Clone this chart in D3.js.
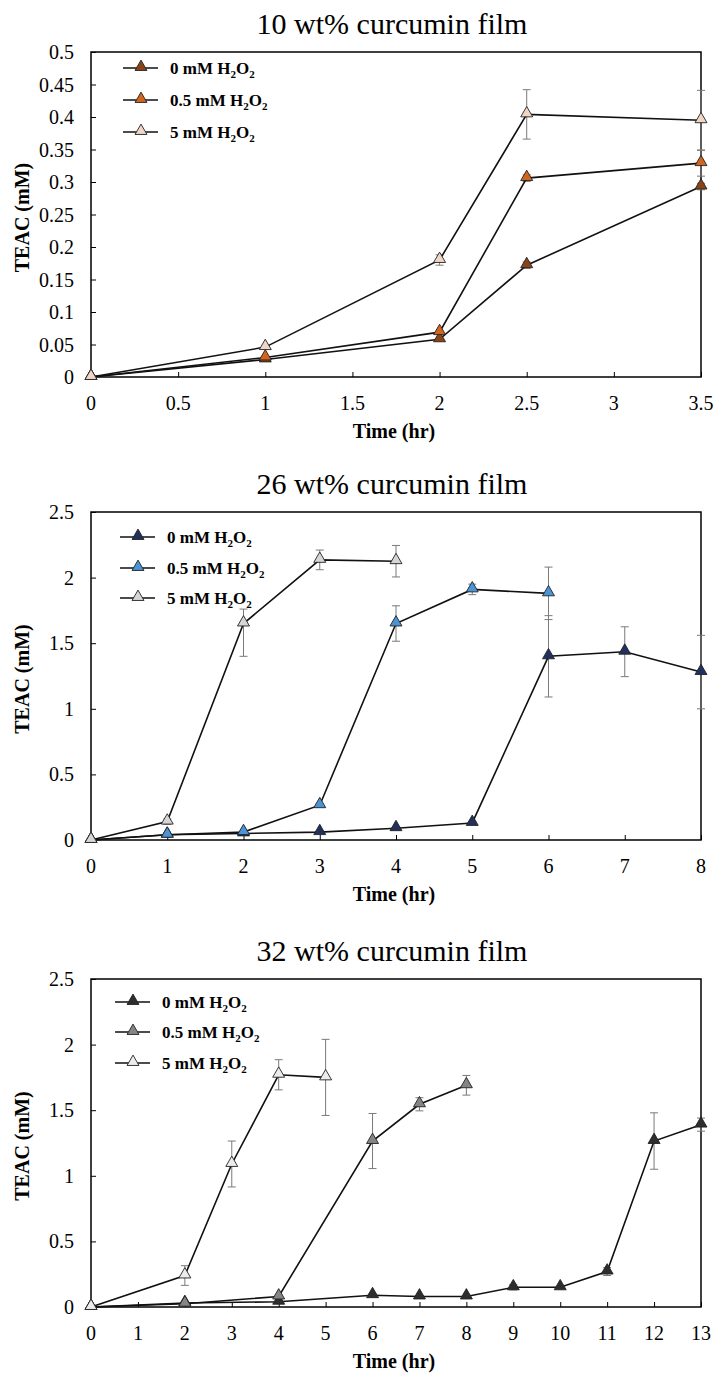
<!DOCTYPE html>
<html>
<head>
<meta charset="utf-8">
<script src="https://cdn.jsdelivr.net/npm/d3@7"></script>
<style>
  body { margin: 0; background: #fff; }
  svg { display: block; }
  text { font-family: "Liberation Serif", "Times New Roman", serif; fill: #000; }
</style>
</head>
<body>
<div id="chart"></div>
<script>
// ---- data ----
const legendNames = ["0 mM ", "0.5 mM ", "5 mM "];

// 10 wt% film
const time10 = [0, 1, 2, 2.5, 3.5];
const teac10_0 = [0, 0.027, 0.058, 0.172, 0.293];
const teac10_05 = [0, 0.030, 0.069, 0.306, 0.329];
const teac10_5 = [0, 0.046, 0.180, 0.404, 0.395];
const err10_0 = [0, 0, 0, 0.005, 0.005];
const err10_05 = [0, 0, 0, 0.005, 0.02];
const err10_5 = [0, 0, 0.008, 0.038, 0.046];
const yTicks10 = [0, 0.05, 0.1, 0.15, 0.2, 0.25, 0.3, 0.35, 0.4, 0.45, 0.5];
const xTicks10 = [0, 0.5, 1, 1.5, 2, 2.5, 3, 3.5];

// 26 wt% film
const time26_0 = [0, 1, 2, 3, 4, 5, 6, 7, 8];
const teac26_0 = [0, 0.04, 0.05, 0.06, 0.09, 0.13, 1.40, 1.435, 1.28];
const err26_0 = [0, 0, 0, 0, 0, 0.01, 0.31, 0.19, 0.28];
const time26_05 = [0, 1, 2, 3, 4, 5, 6];
const teac26_05 = [0, 0.04, 0.06, 0.265, 1.65, 1.91, 1.88];
const err26_05 = [0, 0, 0, 0.01, 0.135, 0.04, 0.2];
const time26_5 = [0, 1, 2, 3, 4];
const teac26_5 = [0, 0.14, 1.65, 2.135, 2.125];
const errUp26_5 = [0, 0.02, 0.11, 0.075, 0.12];
const errDown26_5 = [0, 0.02, 0.25, 0.075, 0.12];
const yTicks26 = [0, 0.5, 1, 1.5, 2, 2.5];
const xTicks26 = [0, 1, 2, 3, 4, 5, 6, 7, 8];

// 32 wt% film
const time32_0 = [0, 2, 4, 6, 7, 8, 9, 10, 11, 12, 13];
const teac32_0 = [0, 0.03, 0.04, 0.09, 0.08, 0.08, 0.15, 0.15, 0.27, 1.265, 1.39];
const err32_0 = [0, 0, 0, 0.01, 0, 0, 0.02, 0, 0.03, 0.215, 0.05];
const time32_05 = [0, 2, 4, 6, 7, 8];
const teac32_05 = [0, 0.025, 0.08, 1.265, 1.545, 1.69];
const err32_05 = [0, 0, 0.01, 0.21, 0.05, 0.075];
const time32_5 = [0, 2, 3, 4, 5];
const teac32_5 = [0, 0.24, 1.09, 1.77, 1.75];
const err32_5 = [0, 0.075, 0.175, 0.115, 0.29];
const yTicks32 = [0, 0.5, 1, 1.5, 2, 2.5];
const xTicks32 = [0, 1, 2, 3, 4, 5, 6, 7, 8, 9, 10, 11, 12, 13];

// zip helper
function pts(t, v, up, down) {
    return t.map((d, i) => ({ x: d, y: v[i], up: up ? up[i] : 0, down: down ? down[i] : (up ? up[i] : 0) }));
}

const panels = [
    {
        title: "10 wt% curcumin film", top: 52, bottom: 377, xMax: 3.5, yMax: 0.5,
        xTicks: xTicks10, yTicks: yTicks10,
        legendX: 123, legendText: 170, legendY: [68, 100, 132],
        series: [
            { pts: pts(time10, teac10_0, err10_0), fill: "#8a4317" },
            { pts: pts(time10, teac10_05, err10_05), fill: "#d0651f" },
            { pts: pts(time10, teac10_5, err10_5), fill: "#f1d5c6" }
        ]
    },
    {
        title: "26 wt% curcumin film", top: 512, bottom: 840, xMax: 8, yMax: 2.5,
        xTicks: xTicks26, yTicks: yTicks26,
        legendX: 120, legendText: 167, legendY: [537, 568, 598],
        series: [
            { pts: pts(time26_0, teac26_0, err26_0), fill: "#22305e" },
            { pts: pts(time26_05, teac26_05, err26_05), fill: "#4a93d4" },
            { pts: pts(time26_5, teac26_5, errUp26_5, errDown26_5), fill: "#d6d6d6" }
        ]
    },
    {
        title: "32 wt% curcumin film", top: 979, bottom: 1307, xMax: 13, yMax: 2.5,
        xTicks: xTicks32, yTicks: yTicks32,
        legendX: 115, legendText: 162, legendY: [1002, 1032, 1063],
        series: [
            { pts: pts(time32_0, teac32_0, err32_0), fill: "#2e2e2e" },
            { pts: pts(time32_05, teac32_05, err32_05), fill: "#858585" },
            { pts: pts(time32_5, teac32_5, err32_5), fill: "#ececec" }
        ]
    }
];

const W = 714, H = 1373;
const left = 91, right = 701;

let svg = d3.select("#chart")
    .append("svg")
    .attr("width", W)
    .attr("height", H);

svg.append("rect").attr("width", W).attr("height", H).attr("fill", "#fff");

let tri = d3.symbol().type(d3.symbolTriangle).size(62);
let fmt = d => String(+d.toFixed(2));

panels.forEach(function(p) {
    let x = d3.scaleLinear().domain([0, p.xMax]).range([left, right]);
    let y = d3.scaleLinear().domain([0, p.yMax]).range([p.bottom, p.top]);
    let g = svg.append("g");

    // title
    g.append("text")
        .attr("x", (left + right) / 2 - 4)
        .attr("y", p.top - 18)
        .attr("text-anchor", "middle")
        .style("font-size", "30px")
        .text(p.title);

    // axes, ticks point inward
    g.append("g")
        .attr("transform", `translate(0,${p.bottom})`)
        .call(d3.axisTop(x).tickValues(p.xTicks).tickSize(5).tickFormat(""))
        .call(a => a.select(".domain").remove());
    g.append("g")
        .attr("transform", `translate(${left},0)`)
        .call(d3.axisRight(y).tickValues(p.yTicks).tickSize(5).tickFormat(""))
        .call(a => a.select(".domain").remove());
    g.append("g")
        .attr("transform", `translate(${right},0)`)
        .call(d3.axisLeft(y).tickValues(p.yTicks).tickSize(0).tickFormat(""))
        .call(a => a.select(".domain").remove());

    // tick labels
    g.selectAll(".xl").data(p.xTicks).enter().append("text")
        .attr("x", d => x(d))
        .attr("y", p.bottom + 33)
        .attr("text-anchor", "middle")
        .style("font-size", "20px")
        .text(fmt);
    g.selectAll(".yl").data(p.yTicks).enter().append("text")
        .attr("x", left - 17)
        .attr("y", d => y(d) + 7)
        .attr("text-anchor", "end")
        .style("font-size", "20px")
        .text(fmt);

    // frame
    g.append("rect")
        .attr("x", left).attr("y", p.top)
        .attr("width", right - left).attr("height", p.bottom - p.top)
        .attr("fill", "none").attr("stroke", "#000").attr("stroke-width", 1.5);

    // axis titles
    g.append("text")
        .attr("x", (left + right) / 2 - 2)
        .attr("y", p.bottom + 61)
        .attr("text-anchor", "middle")
        .style("font-size", "20px").style("font-weight", "bold")
        .text("Time (hr)");
    g.append("text")
        .attr("transform", `translate(29,${(p.top + p.bottom) / 2 + 3}) rotate(-90)`)
        .attr("text-anchor", "middle")
        .style("font-size", "20px").style("font-weight", "bold")
        .text("TEAC (mM)");

    let line = d3.line().x(d => x(d.x)).y(d => y(d.y));

    p.series.forEach(function(s) {
        // error bars
        let eb = g.selectAll(null).data(s.pts.filter(d => d.up > 0 || d.down > 0)).enter().append("g")
            .attr("stroke", "#7a7a7a").attr("stroke-width", 1);
        eb.append("line")
            .attr("x1", d => x(d.x)).attr("x2", d => x(d.x))
            .attr("y1", d => y(d.y + d.up)).attr("y2", d => y(d.y - d.down));
        eb.append("line")
            .attr("x1", d => x(d.x) - 4).attr("x2", d => x(d.x) + 4)
            .attr("y1", d => y(d.y + d.up)).attr("y2", d => y(d.y + d.up));
        eb.append("line")
            .attr("x1", d => x(d.x) - 4).attr("x2", d => x(d.x) + 4)
            .attr("y1", d => y(d.y - d.down)).attr("y2", d => y(d.y - d.down));

        g.append("path")
            .datum(s.pts)
            .attr("d", line)
            .attr("fill", "none")
            .attr("stroke", "#111")
            .attr("stroke-width", 1.6);
    });

    // markers on top
    p.series.forEach(function(s) {
        g.selectAll(null).data(s.pts).enter().append("path")
            .attr("d", tri)
            .attr("transform", d => `translate(${x(d.x)},${y(d.y) - 1})`)
            .attr("fill", s.fill)
            .attr("stroke", "#222")
            .attr("stroke-width", 0.9);
    });

    // legend
    p.series.forEach(function(s, i) {
        let ly = p.legendY[i];
        g.append("line")
            .attr("x1", p.legendX).attr("x2", p.legendX + 35)
            .attr("y1", ly).attr("y2", ly)
            .attr("stroke", "#111").attr("stroke-width", 1.6);
        g.append("path")
            .attr("d", tri)
            .attr("transform", `translate(${p.legendX + 18},${ly - 1})`)
            .attr("fill", s.fill).attr("stroke", "#222").attr("stroke-width", 0.9);
        let t = g.append("text")
            .attr("x", p.legendText)
            .attr("y", ly + 6)
            .style("font-size", "17px").style("font-weight", "bold");
        t.append("tspan").text(legendNames[i] + "H");
        t.append("tspan").attr("dy", 4).style("font-size", "11px").text("2");
        t.append("tspan").attr("dy", -4).text("O");
        t.append("tspan").attr("dy", 4).style("font-size", "11px").text("2");
    });
});
</script>
</body>
</html>
